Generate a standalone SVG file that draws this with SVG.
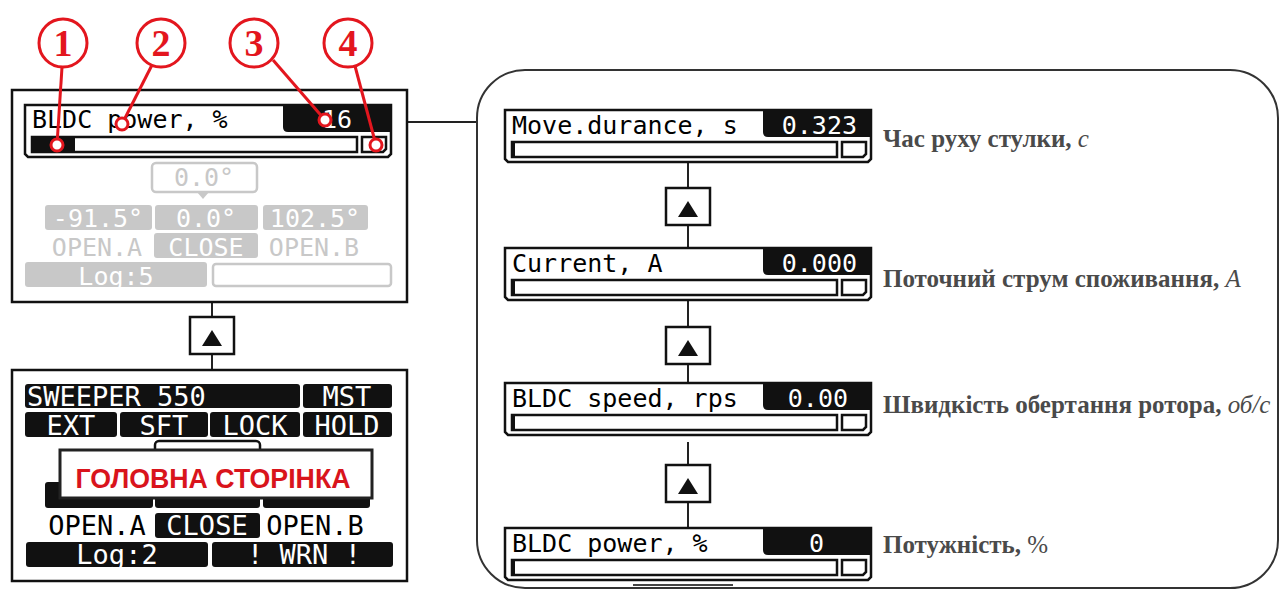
<svg xmlns="http://www.w3.org/2000/svg" xmlns:xlink="http://www.w3.org/1999/xlink" width="1286" height="589" viewBox="0 0 1286 589">
<style>
.lcd{font-family:"DejaVu Sans Mono","Liberation Mono",monospace;font-size:25px}
.big{font-size:27px}
.mid{text-anchor:middle}
.end{text-anchor:end}
.frame{fill:#fff;stroke:#111;stroke-width:2.5}
.blk{fill:#111}
.wt{fill:#fff}
.g{fill:#c8c8c8}
.gs{fill:#fff;stroke:#c8c8c8;stroke-width:2.5}
.panel{fill:none;stroke:#111;stroke-width:2.5}
.conn{fill:none;stroke:#222;stroke-width:2}
.btn{fill:#fff;stroke:#111;stroke-width:2.5}
.red{stroke:#e3161e;stroke-width:3;fill:none}
.dot{fill:#fff;stroke:#e3161e;stroke-width:3}
.num{font-family:"Liberation Serif",serif;font-weight:bold;font-size:38px;fill:#e3161e;text-anchor:middle}
.label{font-family:"Liberation Serif",serif;font-weight:bold;font-size:25px;fill:#4a4a4a}
.unit{font-weight:normal;font-style:italic}
.plain{font-weight:normal}
.title{font-family:"Liberation Sans",Arial,sans-serif;font-weight:bold;font-size:27px;fill:#d9141c;text-anchor:middle}
</style>
<defs>
<g id="widget">
<path class="frame" d="M0,0 H366 V49 L363,52 H3 L0,49 Z"/>
<path class="blk" d="M258,0 H366 V27 H263 Q258,27 258,22 Z"/>
<rect class="frame" x="7" y="32" width="325" height="15"/>
<rect class="blk" x="7" y="32" width="3" height="15"/>
<path class="frame" d="M337,32 H361 V44 L358,47 H337 Z"/>
</g>
<g id="upbtn">
<rect class="btn" x="-22" y="0" width="44" height="37"/>
<path class="blk" d="M0,13 L10,29 H-10 Z"/>
</g>
</defs>
<rect width="1286" height="589" fill="#fff"/>

<!-- connectors -->
<g id="connectors">
<line class="conn" x1="407" y1="122" x2="477" y2="122"/>
<line class="conn" x1="212" y1="302" x2="212" y2="370"/>
<use xlink:href="#upbtn" href="#upbtn" x="212" y="317"/>
<line class="conn" x1="688" y1="162" x2="688" y2="248"/>
<use xlink:href="#upbtn" href="#upbtn" x="688" y="188"/>
<line class="conn" x1="688" y1="300" x2="688" y2="383"/>
<use xlink:href="#upbtn" href="#upbtn" x="688" y="327"/>
<line class="conn" x1="688" y1="442" x2="688" y2="528"/>
<use xlink:href="#upbtn" href="#upbtn" x="688" y="465"/>
</g>

<!-- top-left screen -->
<g id="screen-power">
<rect class="panel" x="12" y="90" width="395" height="212"/>
<use xlink:href="#widget" href="#widget" x="25" y="105"/>
<rect class="blk" x="32" y="137" width="43" height="15"/>
<text class="lcd" x="32" y="128">BLDC power, %</text>
<text class="lcd wt end" x="352" y="128">16</text>
<rect class="gs" x="152" y="163" width="105" height="29" rx="4"/>
<path class="g" d="M197,192 L209,192 L203,199 Z"/>
<text class="lcd g mid" x="204" y="186" font-size="23">0.0°</text>
<rect class="g" x="45" y="205" width="107" height="25" rx="3"/>
<rect class="g" x="155" y="205" width="103" height="25" rx="3"/>
<rect class="g" x="263" y="205" width="105" height="25" rx="3"/>
<text class="lcd wt mid" x="98" y="227" font-size="24">-91.5°</text>
<text class="lcd wt mid" x="206" y="227" font-size="24">0.0°</text>
<text class="lcd wt mid" x="315" y="227" font-size="24">102.5°</text>
<text class="lcd g mid" x="97" y="256">OPEN.A</text>
<rect class="g" x="154" y="233" width="104" height="25" rx="3"/>
<text class="lcd wt mid" x="206" y="256">CLOSE</text>
<text class="lcd g mid" x="314" y="256">OPEN.B</text>
<rect class="g" x="25" y="262" width="182" height="25" rx="3"/>
<text class="lcd wt mid" x="116" y="285" font-size="26">Log:5</text>
<rect class="gs" x="213" y="264" width="178" height="22" rx="3"/>
</g>

<!-- bottom-left main page -->
<g id="screen-main">
<rect class="panel" x="12" y="370" width="395" height="211"/>
<rect class="blk" x="25" y="384" width="275" height="24" rx="3"/>
<rect class="blk" x="303" y="384" width="89" height="24" rx="3"/>
<text class="lcd big wt" x="27" y="406">SWEEPER 550</text>
<text class="lcd big wt mid" x="347" y="406">MST</text>
<rect class="blk" x="25" y="412" width="92" height="25" rx="3"/>
<rect class="blk" x="120" y="412" width="88" height="25" rx="3"/>
<rect class="blk" x="210" y="412" width="90" height="25" rx="3"/>
<rect class="blk" x="303" y="412" width="89" height="25" rx="3"/>
<text class="lcd big wt mid" x="71" y="435">EXT</text>
<text class="lcd big wt mid" x="164" y="435">SFT</text>
<text class="lcd big wt mid" x="255" y="435">LOCK</text>
<text class="lcd big wt mid" x="347" y="435">HOLD</text>
<rect class="frame" x="155" y="441" width="105" height="30" rx="4"/>
<rect class="blk" x="45" y="482" width="108" height="26" rx="3"/>
<rect class="blk" x="155" y="482" width="105" height="26" rx="3"/>
<rect class="blk" x="263" y="482" width="107" height="26" rx="3"/>
<rect x="60" y="450" width="312" height="48" fill="#fff" stroke="#222" stroke-width="3"/>
<text class="title" x="213" y="488" textLength="275" lengthAdjust="spacingAndGlyphs">ГОЛОВНА СТОРІНКА</text>
<text class="lcd big mid" x="97" y="535">OPEN.A</text>
<rect class="blk" x="155" y="513" width="105" height="25" rx="3"/>
<text class="lcd big wt mid" x="207" y="535">CLOSE</text>
<text class="lcd big mid" x="315" y="535">OPEN.B</text>
<rect class="blk" x="26" y="542" width="182" height="25" rx="3"/>
<rect class="blk" x="212" y="542" width="181" height="25" rx="3"/>
<text class="lcd big wt mid" x="117" y="564">Log:2</text>
<text class="lcd big wt mid" x="304" y="564">! WRN !</text>
</g>

<!-- right panel -->
<g id="params-panel">
<rect x="477" y="70" width="801" height="518" rx="48" fill="none" stroke="#333" stroke-width="2"/>
<line x1="633" y1="585" x2="733" y2="585" stroke="#444" stroke-width="2"/>
</g>

<g id="param-move">
<use xlink:href="#widget" href="#widget" x="505" y="110"/>
<text class="lcd" x="512" y="134">Move.durance, s</text>
<text class="lcd wt end" x="857" y="134">0.323</text>
<text class="label" x="883" y="147">Час руху стулки, <tspan class="unit">с</tspan></text>
</g>
<g id="param-current">
<use xlink:href="#widget" href="#widget" x="505" y="248"/>
<text class="lcd" x="512" y="272">Current, A</text>
<text class="lcd wt end" x="857" y="272">0.000</text>
<text class="label" x="883" y="287">Поточний струм споживання, <tspan class="unit">А</tspan></text>
</g>
<g id="param-speed">
<use xlink:href="#widget" href="#widget" x="505" y="383"/>
<text class="lcd" x="512" y="407">BLDC speed, rps</text>
<text class="lcd wt end" x="848" y="407">0.00</text>
<text class="label" x="883" y="413">Швидкість обертання ротора, <tspan class="unit">об/с</tspan></text>
</g>
<g id="param-power">
<use xlink:href="#widget" href="#widget" x="505" y="528"/>
<text class="lcd" x="512" y="552">BLDC power, %</text>
<text class="lcd wt end" x="824" y="552">0</text>
<text class="label" x="883" y="553">Потужність, <tspan class="plain">%</tspan></text>
</g>

<!-- callouts -->
<g id="callouts">
<line class="red" x1="62" y1="67" x2="57" y2="145"/>
<line class="red" x1="152" y1="65" x2="122" y2="124"/>
<line class="red" x1="273" y1="60" x2="325" y2="120"/>
<line class="red" x1="355" y1="66" x2="376" y2="145"/>
<circle class="dot" cx="63" cy="43" r="24"/>
<circle class="dot" cx="161" cy="43" r="24"/>
<circle class="dot" cx="254" cy="43" r="24"/>
<circle class="dot" cx="348" cy="43" r="24"/>
<text class="num" x="63" y="56">1</text>
<text class="num" x="161" y="56">2</text>
<text class="num" x="254" y="56">3</text>
<text class="num" x="348" y="56">4</text>
<circle class="dot" cx="57" cy="145" r="6"/>
<circle class="dot" cx="122" cy="124" r="6"/>
<circle class="dot" cx="325" cy="120" r="6"/>
<circle class="dot" cx="376" cy="145" r="6"/>
</g>
</svg>
